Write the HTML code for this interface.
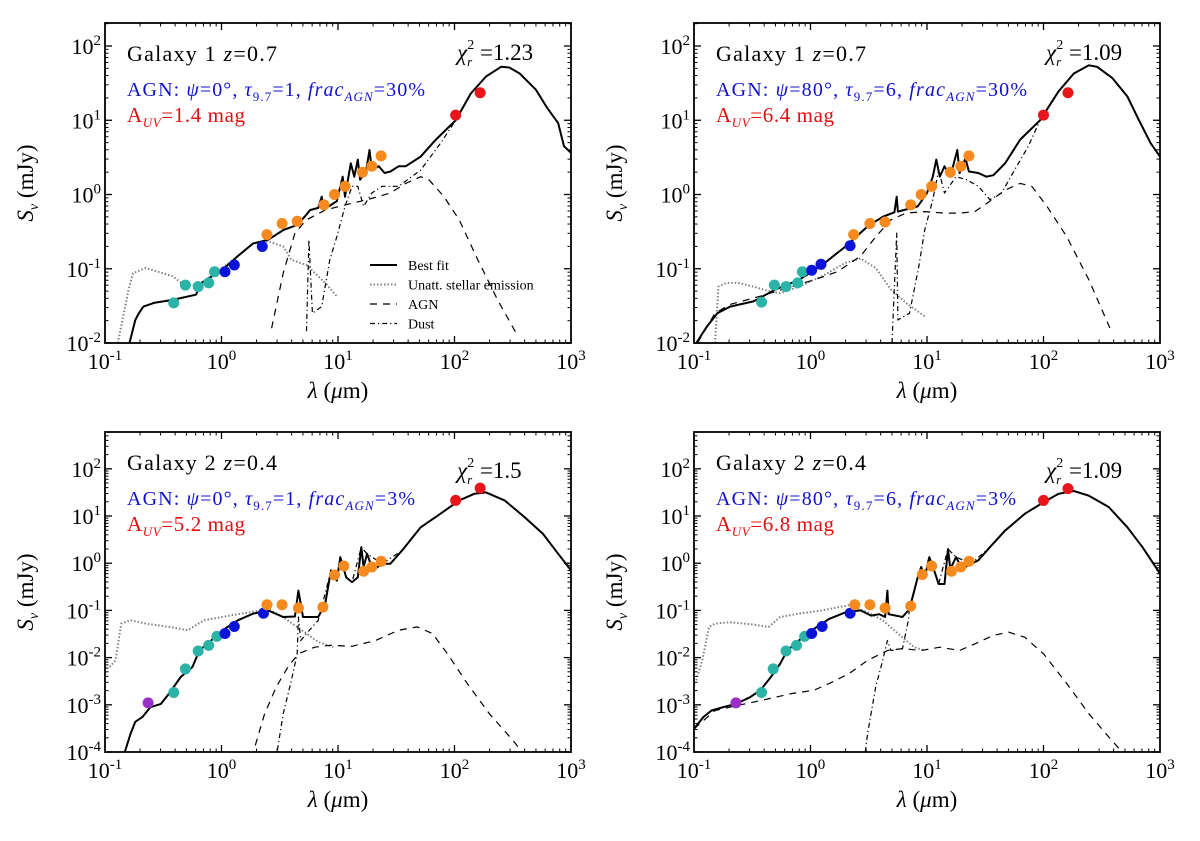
<!DOCTYPE html>
<html><head><meta charset="utf-8"><style>
body{margin:0;background:#fff;}
svg{display:block;font-family:"Liberation Serif","DejaVu Serif",serif;}
</style></head><body>
<svg id="fig" width="1200" height="841" viewBox="0 0 1200 841"></svg>
<script>
// ===== data (log10 lambda [um], log10 S [mJy]) =====
const tl_best=[[-0.79,-2],[-0.74,-1.69],[-0.71,-1.6],[-0.67,-1.51],[-0.58,-1.46],[-0.42,-1.42],[-0.22,-1.35],[-0.17,-1.19],[-0.11,-1.13],[0.01,-1.01],[0.14,-0.83],[0.27,-0.66],[0.4,-0.61],[0.53,-0.48],[0.65,-0.41],[0.73,-0.27],[0.76,-0.21],[0.83,-0.18],[0.86,-0.03],[0.88,-0.2],[0.99,-0.09],[1.02,0.11],[1.04,0.24],[1.06,-0.03],[1.11,0.42],[1.14,0.24],[1.17,0.47],[1.19,0.2],[1.24,0.31],[1.27,0.6],[1.29,0.33],[1.35,0.38],[1.4,0.29],[1.45,0.31],[1.52,0.38],[1.58,0.38],[1.71,0.51],[1.84,0.74],[2.01,1.0],[2.14,1.36],[2.27,1.59],[2.4,1.72],[2.47,1.71],[2.56,1.63],[2.7,1.41],[2.79,1.18],[2.89,0.96],[2.94,0.65],[3.0,0.56]];
const tl_stellar=[[-0.89,-2],[-0.8,-1.3],[-0.76,-1.06],[-0.65,-0.99],[-0.42,-1.1],[-0.32,-1.22],[-0.2,-1.22],[0,-1.0],[0.14,-0.83],[0.27,-0.66],[0.4,-0.63],[0.53,-0.7],[0.6,-0.88],[0.73,-0.95],[0.89,-1.19],[0.99,-1.37]];
const tl_agn=[[0.43,-1.8],[0.53,-1.06],[0.63,-0.52],[0.73,-0.34],[0.89,-0.21],[1.06,-0.14],[1.25,-0.07],[1.45,0.02],[1.58,0.15],[1.71,0.24],[1.78,0.2],[1.91,-0.03],[2.04,-0.34],[2.2,-0.88],[2.37,-1.42],[2.53,-1.87]];
const tl_dust=[[0.73,-1.84],[0.75,-0.61],[0.78,-1.6],[0.86,-1.51],[0.93,-0.88],[0.99,-0.57],[1.06,-0.16],[1.12,0.11],[1.17,0.11],[1.22,-0.16],[1.29,0.02],[1.38,0.11],[1.52,0.11],[1.71,0.33],[1.88,0.69],[2.01,1.0],[2.14,1.36],[2.27,1.59],[2.4,1.72],[2.47,1.71],[2.56,1.63],[2.7,1.41],[2.79,1.18],[2.89,0.96],[2.94,0.65],[3.0,0.56]];
const tl_cyan=[[-0.41,-1.46],[-0.31,-1.22],[-0.2,-1.24],[-0.11,-1.19],[-0.06,-1.04]];
const tl_blue=[[0.03,-1.04],[0.11,-0.95],[0.35,-0.7]];
const tl_orange=[[0.39,-0.54],[0.52,-0.39],[0.65,-0.36],[0.88,-0.14],[0.97,0.0],[1.06,0.11],[1.21,0.3],[1.29,0.38],[1.37,0.52]];
const tl_red=[[2.01,1.07],[2.22,1.37]];
const tl_purple=[];

const tr_best=[[-0.98,-2.0],[-0.89,-1.78],[-0.8,-1.6],[-0.69,-1.51],[-0.49,-1.44],[-0.3,-1.28],[-0.1,-1.15],[0.1,-0.95],[0.3,-0.7],[0.49,-0.43],[0.62,-0.3],[0.72,-0.24],[0.74,-0.03],[0.75,-0.23],[0.92,-0.16],[1.0,0.02],[1.05,0.24],[1.08,0.47],[1.11,0.24],[1.15,0.38],[1.2,0.24],[1.26,0.6],[1.28,0.29],[1.33,0.49],[1.36,0.31],[1.44,0.29],[1.51,0.24],[1.57,0.26],[1.67,0.42],[1.8,0.74],[1.97,1.0],[2.13,1.39],[2.26,1.63],[2.39,1.74],[2.46,1.72],[2.59,1.57],[2.72,1.32],[2.82,1.0],[2.92,0.69],[3.0,0.51]];
const tr_stellar=[[-0.82,-2.0],[-0.79,-1.24],[-0.72,-1.19],[-0.62,-1.19],[-0.49,-1.24],[-0.36,-1.3],[-0.26,-1.33],[-0.1,-1.24],[0.1,-1.1],[0.3,-0.92],[0.43,-0.86],[0.56,-0.99],[0.69,-1.28],[0.82,-1.46],[0.98,-1.64]];
const tr_agn=[[-0.97,-2.0],[-0.82,-1.6],[-0.69,-1.48],[-0.43,-1.37],[-0.16,-1.24],[0.03,-1.15],[0.23,-1.04],[0.43,-0.83],[0.56,-0.57],[0.69,-0.34],[0.82,-0.25],[0.98,-0.23],[1.15,-0.25],[1.28,-0.25],[1.41,-0.23],[1.54,-0.09],[1.67,0.06],[1.8,0.15],[1.9,0.11],[2.03,-0.16],[2.2,-0.57],[2.39,-1.15],[2.59,-1.87]];
const tr_dust=[[0.7,-2.0],[0.74,-0.52],[0.75,-1.69],[0.85,-1.6],[0.93,-0.97],[0.98,-0.48],[1.05,-0.07],[1.1,0.33],[1.15,0.02],[1.25,0.24],[1.34,0.2],[1.44,0.11],[1.54,-0.07],[1.64,0.02],[1.77,0.38],[1.87,0.65],[1.97,1.0],[2.13,1.39],[2.26,1.63],[2.39,1.74],[2.46,1.72],[2.59,1.57],[2.72,1.32],[2.82,1.0],[2.92,0.69],[3.0,0.51]];
const tr_cyan=[[-0.42,-1.45],[-0.31,-1.22],[-0.21,-1.24],[-0.11,-1.19],[-0.07,-1.04]];
const tr_blue=[[0.01,-1.02],[0.09,-0.94],[0.34,-0.69]];
const tr_orange=[[0.37,-0.54],[0.51,-0.39],[0.64,-0.37],[0.86,-0.14],[0.95,0.0],[1.04,0.11],[1.2,0.3],[1.29,0.38],[1.36,0.52]];
const tr_red=[[2.0,1.07],[2.21,1.37]];
const tr_purple=[];

const bl_best=[[-0.83,-4.0],[-0.78,-3.61],[-0.74,-3.36],[-0.68,-3.26],[-0.61,-3.05],[-0.52,-2.98],[-0.45,-2.76],[-0.35,-2.41],[-0.25,-2.2],[-0.19,-1.85],[-0.09,-1.64],[0.01,-1.42],[0.14,-1.21],[0.27,-1.07],[0.4,-1.0],[0.53,-1.14],[0.63,-1.13],[0.66,-0.58],[0.7,-1.14],[0.83,-1.14],[0.89,-0.86],[0.94,-0.15],[0.99,-0.37],[1.02,0.13],[1.07,-0.3],[1.12,-0.4],[1.17,-0.3],[1.2,0.34],[1.22,-0.08],[1.25,0.2],[1.3,-0.15],[1.38,-0.01],[1.45,-0.01],[1.55,0.27],[1.71,0.76],[1.88,1.05],[2.04,1.33],[2.17,1.47],[2.27,1.5],[2.43,1.33],[2.6,0.98],[2.76,0.62],[2.89,0.2],[3.0,-0.15]];
const bl_stellar=[[-0.96,-2.2],[-0.91,-2.06],[-0.86,-1.28],[-0.78,-1.21],[-0.65,-1.28],[-0.45,-1.35],[-0.29,-1.42],[-0.15,-1.21],[0.07,-1.11],[0.24,-1.04],[0.4,-0.97],[0.53,-1.14],[0.63,-1.32],[0.73,-1.49],[0.83,-1.67],[0.96,-1.78]];
const bl_agn=[[0.29,-3.86],[0.37,-3.19],[0.47,-2.62],[0.57,-2.2],[0.66,-1.92],[0.8,-1.78],[0.93,-1.74],[1.12,-1.76],[1.32,-1.64],[1.52,-1.42],[1.68,-1.35],[1.81,-1.49],[1.94,-1.92],[2.11,-2.55],[2.3,-3.19],[2.5,-3.75],[2.58,-4.0]];
const bl_dust=[[0.48,-3.96],[0.53,-3.19],[0.6,-2.48],[0.65,-1.92],[0.66,-1.14],[0.68,-1.64],[0.73,-1.49],[0.83,-1.21],[0.86,-0.93],[0.94,-0.15],[0.99,-0.37],[1.02,0.13],[1.07,-0.3],[1.12,-0.4],[1.2,0.34],[1.25,0.2],[1.38,-0.01],[1.55,0.27],[1.71,0.76],[1.88,1.05],[2.04,1.33],[2.17,1.47],[2.27,1.5],[2.43,1.33],[2.6,0.98],[2.76,0.62],[2.89,0.2],[3.0,-0.15]];
const bl_cyan=[[-0.41,-2.74],[-0.31,-2.24],[-0.2,-1.86],[-0.11,-1.74],[-0.04,-1.55]];
const bl_blue=[[0.03,-1.49],[0.11,-1.34],[0.36,-1.06]];
const bl_orange=[[0.39,-0.88],[0.52,-0.88],[0.66,-0.95],[0.87,-0.93],[0.97,-0.25],[1.05,-0.06],[1.22,-0.17],[1.29,-0.08],[1.37,0.04]];
const bl_red=[[2.01,1.33],[2.22,1.59]];
const bl_purple=[[-0.63,-2.96]];

const br_best=[[-1.0,-3.51],[-0.92,-3.26],[-0.85,-3.12],[-0.75,-3.05],[-0.64,-2.98],[-0.52,-2.84],[-0.43,-2.69],[-0.34,-2.41],[-0.26,-2.13],[-0.2,-1.85],[-0.1,-1.64],[0.03,-1.39],[0.16,-1.18],[0.3,-1.04],[0.43,-1.0],[0.52,-1.11],[0.59,-1.08],[0.64,-1.14],[0.66,-0.58],[0.67,-1.08],[0.79,-1.14],[0.85,-0.97],[0.92,-0.3],[0.95,-0.08],[0.98,-0.3],[1.02,0.13],[1.07,-0.22],[1.1,-0.44],[1.15,-0.44],[1.18,0.3],[1.2,-0.12],[1.25,0.13],[1.3,-0.12],[1.38,-0.01],[1.44,0.06],[1.54,0.34],[1.67,0.69],[1.84,1.05],[2.0,1.29],[2.13,1.47],[2.26,1.53],[2.39,1.43],[2.56,1.19],[2.72,0.76],[2.85,0.34],[3.0,-0.22]];
const br_stellar=[[-0.98,-2.48],[-0.93,-2.06],[-0.87,-1.35],[-0.82,-1.28],[-0.69,-1.25],[-0.49,-1.3],[-0.36,-1.35],[-0.26,-1.14],[-0.1,-1.07],[0.1,-1.0],[0.33,-0.89],[0.49,-1.04],[0.62,-1.21],[0.75,-1.49],[0.89,-1.78],[0.98,-1.85]];
const br_agn=[[-1.0,-3.51],[-0.82,-3.12],[-0.62,-3.01],[-0.43,-2.91],[-0.16,-2.76],[0.03,-2.69],[0.16,-2.55],[0.33,-2.34],[0.49,-2.06],[0.66,-1.85],[0.79,-1.81],[0.95,-1.85],[1.11,-1.78],[1.28,-1.85],[1.41,-1.71],[1.57,-1.53],[1.7,-1.46],[1.84,-1.57],[2.0,-1.92],[2.2,-2.55],[2.39,-3.19],[2.56,-3.68],[2.66,-3.96]];
const br_dust=[[0.47,-4.0],[0.49,-3.61],[0.56,-2.62],[0.62,-2.06],[0.66,-1.64],[0.69,-1.85],[0.79,-1.81],[0.84,-1.21],[0.85,-0.93],[0.92,-0.3],[0.95,-0.08],[0.98,-0.3],[1.02,0.13],[1.07,-0.22],[1.1,-0.44],[1.18,0.3],[1.25,0.13],[1.38,-0.01],[1.54,0.34],[1.67,0.69],[1.84,1.05],[2.0,1.29],[2.13,1.47],[2.26,1.53],[2.39,1.43],[2.56,1.19],[2.72,0.76],[2.85,0.34],[3.0,-0.22]];
const br_cyan=[[-0.42,-2.74],[-0.32,-2.24],[-0.21,-1.86],[-0.12,-1.74],[-0.05,-1.55]];
const br_blue=[[0.01,-1.49],[0.1,-1.34],[0.34,-1.06]];
const br_orange=[[0.38,-0.88],[0.51,-0.88],[0.64,-0.95],[0.86,-0.91],[0.96,-0.24],[1.04,-0.06],[1.21,-0.17],[1.29,-0.08],[1.36,0.04]];
const br_red=[[2.0,1.33],[2.21,1.58]];
const br_purple=[[-0.64,-2.96]];

const xTickExps=[-1,0,1,2,3];
const topYTickExps=[-2,-1,0,1,2];
const botYTickExps=[-4,-3,-2,-1,0,1,2];

const NS="http://www.w3.org/2000/svg";
const svg=document.getElementById('fig');
function mk(tag,attrs,parent){const e=document.createElementNS(NS,tag);for(const k in attrs)e.setAttribute(k,attrs[k]);(parent||svg).appendChild(e);return e;}

function panel(cfg){
  const g=mk('g',{});
  
  
  const L=cfg.x0,R=cfg.x0+466,T=cfg.top,B=cfg.top+320;
  const sx=v=>L+(v+1)/4*(R-L);
  const sy=v=>B-(v-cfg.ymin)/(cfg.ymax-cfg.ymin)*(B-T);
  const cp=mk('clipPath',{id:'cp'+cfg.id},g);
  mk('rect',{x:L,y:T,width:R-L,height:B-T},cp);
  const plot=mk('g',{'clip-path':'url(#cp'+cfg.id+')'},g);
  function line(data,name,style){
    const p=mk('path',Object.assign({fill:'none','stroke-linejoin':'round',d:data.map((d,i)=>(i?'L':'M')+sx(d[0]).toFixed(1)+','+sy(d[1]).toFixed(1)).join('')},style),plot);
    
    
  }
  line(cfg.stellar,'unattenuated-stellar-line',{stroke:'#808080','stroke-width':2,'stroke-dasharray':'1.5,2'});
  line(cfg.agn,'agn-line',{stroke:'#000','stroke-width':1.2,'stroke-dasharray':'7,6'});
  line(cfg.dust,'dust-line',{stroke:'#000','stroke-width':1.2,'stroke-dasharray':'5,3,1.2,3'});
  line(cfg.best,'best-fit-line',{stroke:'#000','stroke-width':2});
  function pts(data,color,name){
    data.forEach(d=>{
      const c=mk('circle',{cx:sx(d[0]),cy:sy(d[1]),r:5.5,fill:color},plot);
      
      
    });
  }
  pts(cfg.cyan,'#2ab3a6','photometry-point-optical');
  pts(cfg.blue,'#0a14d8','photometry-point-nir');
  pts(cfg.orange,'#f78a1e','photometry-point-mir');
  pts(cfg.red,'#e8161b','photometry-point-fir');
  pts(cfg.purple,'#9a30c8','photometry-point-uv');
  const fr=mk('rect',{x:L,y:T,width:R-L,height:B-T,fill:'none',stroke:'#000','stroke-width':1.8},g);
  
  
  xTickExps.forEach(e=>{
    const X=sx(e);
    if(e>-1&&e<3){mk('line',{x1:X,x2:X,y1:B,y2:B-7,stroke:'#000','stroke-width':1.3},g);mk('line',{x1:X,x2:X,y1:T,y2:T+7,stroke:'#000','stroke-width':1.3},g);}
    if(e<3)for(let m=2;m<10;m++){const xm=sx(e+Math.log10(m));mk('line',{x1:xm,x2:xm,y1:B,y2:B-3.5,stroke:'#000'},g);mk('line',{x1:xm,x2:xm,y1:T,y2:T+3.5,stroke:'#000'},g);}
    const t=mk('text',{x:X,y:B+26,'font-size':22,'text-anchor':'middle'},g);
    t.innerHTML='10<tspan dy="-9" font-size="15">'+e+'</tspan>';
    
    
  });
  cfg.yticks.forEach(e=>{
    const Y=sy(e);
    mk('line',{x1:L,x2:L+7,y1:Y,y2:Y,stroke:'#000','stroke-width':1.3},g);mk('line',{x1:R,x2:R-7,y1:Y,y2:Y,stroke:'#000','stroke-width':1.3},g);
    const t=mk('text',{x:L-4,y:Y+8,'font-size':22,'text-anchor':'end'},g);
    t.innerHTML='10<tspan dy="-9" font-size="15">'+e+'</tspan>';
    
    
  });
  for(let e=cfg.ymin-1;e<cfg.ymax;e++)for(let m=2;m<10;m++){const v=e+Math.log10(m);if(v<=cfg.ymin||v>=cfg.ymax)continue;const Y=sy(v);
    mk('line',{x1:L,x2:L+3.5,y1:Y,y2:Y,stroke:'#000'},g);mk('line',{x1:R,x2:R-3.5,y1:Y,y2:Y,stroke:'#000'},g);}
  const xl=mk('text',{x:(L+R)/2,y:B+55,'font-size':23,'text-anchor':'middle'},g);
  xl.innerHTML='<tspan font-style="italic">λ</tspan> (<tspan font-style="italic">μ</tspan>m)';
  
  
  const yl=mk('text',{x:0,y:0,'font-size':23,'text-anchor':'middle',transform:'translate('+(L-72)+','+((T+B)/2)+') rotate(-90)'},g);
  yl.innerHTML='<tspan font-style="italic">S</tspan><tspan font-style="italic" font-size="14" dy="5">ν</tspan><tspan dy="-5"> (mJy)</tspan>';
  
  
  const t1=mk('text',{x:L+22,y:T+38,'font-size':22,textLength:150,lengthAdjust:'spacing'},g);
  t1.innerHTML=cfg.title+' <tspan font-style="italic">z</tspan>='+cfg.z;
  
  
  const t2=mk('text',{x:L+22,y:T+73,'font-size':20,fill:'#1010d0',textLength:cfg.agnW,lengthAdjust:'spacing'},g);
  t2.innerHTML='AGN: <tspan font-style="italic">ψ</tspan>='+cfg.psi+'°, <tspan font-style="italic">τ</tspan><tspan font-size="13" dy="5">9.7</tspan><tspan dy="-5">='+cfg.tau+', </tspan><tspan font-style="italic">frac</tspan><tspan font-style="italic" font-size="13" dy="5">AGN</tspan><tspan dy="-5">='+cfg.frac+'%</tspan>';
  
  
  const t3=mk('text',{x:L+22,y:T+99,'font-size':21,fill:'#e01010',textLength:118,lengthAdjust:'spacing'},g);
  t3.innerHTML='A<tspan font-style="italic" font-size="13" dy="5">UV</tspan><tspan dy="-5">='+cfg.auv+' mag</tspan>';
  
  
  const t4=mk('text',{x:L+352,y:cfg.chiY,'font-size':23},g);
  t4.innerHTML='<tspan font-style="italic">χ</tspan><tspan font-style="italic" font-size="13" dy="6">r</tspan><tspan font-size="14" dy="-17" dx="-5">2</tspan><tspan dy="11"> =' +cfg.chi+'</tspan>';
  
  
  return {g,L,T};
}

panel({id:1,name:'panel-galaxy1-psi0',x0:105,top:23,ymin:-2,ymax:2.31,yticks:topYTickExps,best:tl_best,stellar:tl_stellar,agn:tl_agn,dust:tl_dust,cyan:tl_cyan,blue:tl_blue,orange:tl_orange,red:tl_red,purple:tl_purple,title:'Galaxy 1',z:'0.7',psi:'0',tau:'1',frac:'30',auv:'1.4',chi:'1.23',chiY:60,agnW:298});
panel({id:2,name:'panel-galaxy1-psi80',x0:694,top:23,ymin:-2,ymax:2.31,yticks:topYTickExps,best:tr_best,stellar:tr_stellar,agn:tr_agn,dust:tr_dust,cyan:tr_cyan,blue:tr_blue,orange:tr_orange,red:tr_red,purple:tr_purple,title:'Galaxy 1',z:'0.7',psi:'80',tau:'6',frac:'30',auv:'6.4',chi:'1.09',chiY:60,agnW:311});
panel({id:3,name:'panel-galaxy2-psi0',x0:105,top:432,ymin:-4,ymax:2.78,yticks:botYTickExps,best:bl_best,stellar:bl_stellar,agn:bl_agn,dust:bl_dust,cyan:bl_cyan,blue:bl_blue,orange:bl_orange,red:bl_red,purple:bl_purple,title:'Galaxy 2',z:'0.4',psi:'0',tau:'1',frac:'3',auv:'5.2',chi:'1.5',chiY:478,agnW:288});
panel({id:4,name:'panel-galaxy2-psi80',x0:694,top:432,ymin:-4,ymax:2.78,yticks:botYTickExps,best:br_best,stellar:br_stellar,agn:br_agn,dust:br_dust,cyan:br_cyan,blue:br_blue,orange:br_orange,red:br_red,purple:br_purple,title:'Galaxy 2',z:'0.4',psi:'80',tau:'6',frac:'3',auv:'6.8',chi:'1.09',chiY:478,agnW:300});

const legend=mk('g',{});


const legendLabels=['Best fit','Unatt. stellar emission','AGN','Dust'];
const legendStyles=[{stroke:'#000','stroke-width':2},{stroke:'#808080','stroke-width':2,'stroke-dasharray':'1.5,2'},{stroke:'#000','stroke-width':1.2,'stroke-dasharray':'7,6'},{stroke:'#000','stroke-width':1.2,'stroke-dasharray':'5,3,1.2,3'}];
legendLabels.forEach((lab,i)=>{
  const y=265+i*19.5;
  const ln=mk('line',Object.assign({x1:370,x2:397,y1:y,y2:y},legendStyles[i]),legend);
  
  
  const t=mk('text',{x:408,y:y+5,'font-size':14},legend);
  t.textContent=lab;
  
  
});
</script>
</body></html>
